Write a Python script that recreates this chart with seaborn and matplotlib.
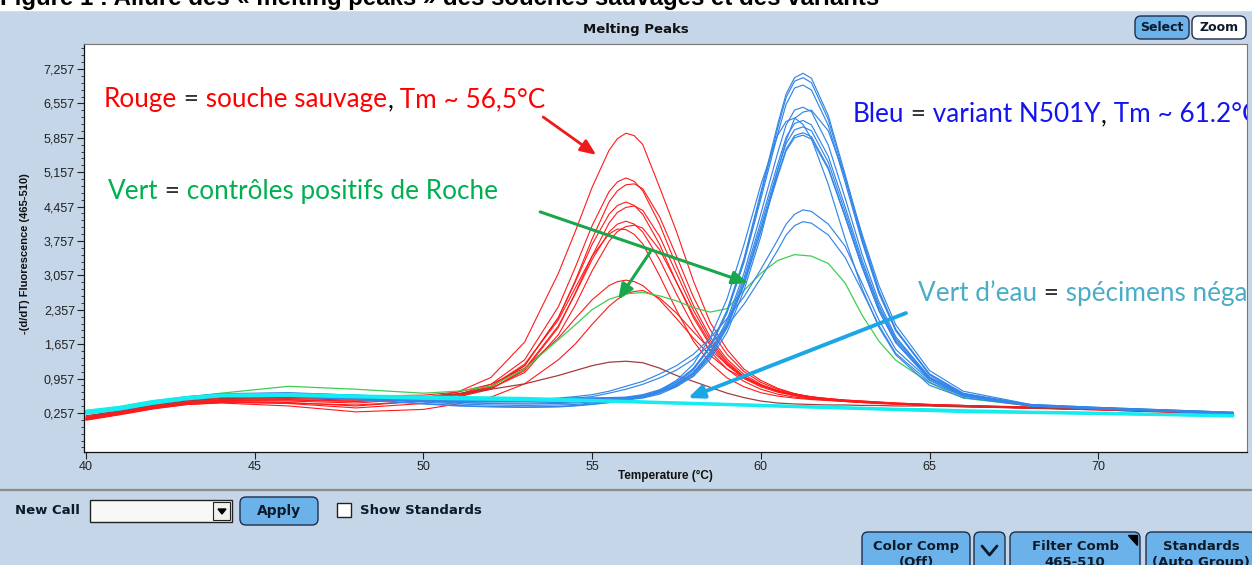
import numpy as np
import pandas as pd
import seaborn as sns
import matplotlib.pyplot as plt
from matplotlib.patches import FancyBboxPatch, Rectangle, Polygon

sns.set_theme(style="white")
plt.rcParams["font.family"] = ["Liberation Sans", "DejaVu Sans"]

# DATA
# temperature grid for the red (wild type) curves, finer around the 56 °C peak
temps_red = [40, 41, 42, 43, 44, 46, 48, 50, 51, 52, 53, 54, 54.5, 55, 55.5, 55.75, 56, 56.25, 56.5,
             57, 57.5, 58, 58.5, 59, 59.5, 60, 60.5, 61, 61.5, 62, 62.5, 63, 63.5, 64, 65, 66, 68, 70, 74]
# temperature grid for the blue (N501Y) curves, finer around the 61 °C peak
temps_blue = [40, 41, 42, 43, 44, 46, 48, 50, 51, 52, 53, 54, 54.5, 55, 55.5, 56, 56.5, 57, 57.5,
              58, 58.5, 59, 59.5, 60, 60.5, 60.75, 61, 61.25, 61.5, 62, 62.5, 63, 63.5, 64, 65, 66, 68, 70, 74]
# grid for the other curves
temps = [40, 41, 42, 43, 44, 46, 48, 50, 51, 52, 53, 54, 54.5, 55, 55.5, 56, 56.5, 57, 57.5,
         58, 58.5, 59, 59.5, 60, 60.5, 61, 61.5, 62, 62.5, 63, 63.5, 64, 65, 66, 68, 70, 74]

red_curves = [
    [0.14, 0.26, 0.38, 0.47, 0.52, 0.53, 0.50, 0.56, 0.68, 0.98, 1.70, 3.10, 3.95, 4.85, 5.60, 5.84, 5.95, 5.90, 5.72, 4.85, 3.95, 2.95, 2.10, 1.55, 1.15, 0.92, 0.76, 0.65, 0.58, 0.54, 0.51, 0.48, 0.46, 0.45, 0.42, 0.40, 0.37, 0.34, 0.25],
    [0.12, 0.24, 0.36, 0.45, 0.50, 0.50, 0.46, 0.55, 0.63, 0.84, 1.34, 2.42, 3.22, 4.07, 4.76, 4.96, 5.04, 4.97, 4.78, 4.10, 3.25, 2.45, 1.80, 1.35, 1.04, 0.84, 0.71, 0.63, 0.57, 0.53, 0.50, 0.48, 0.46, 0.45, 0.42, 0.40, 0.36, 0.33, 0.24],
    [0.16, 0.28, 0.40, 0.48, 0.53, 0.55, 0.52, 0.57, 0.63, 0.80, 1.22, 2.20, 2.95, 3.80, 4.55, 4.78, 4.90, 4.92, 4.82, 4.25, 3.45, 2.62, 1.95, 1.45, 1.10, 0.88, 0.74, 0.65, 0.58, 0.54, 0.51, 0.49, 0.47, 0.45, 0.43, 0.41, 0.37, 0.34, 0.25],
    [0.13, 0.25, 0.37, 0.44, 0.48, 0.45, 0.36, 0.45, 0.58, 0.78, 1.22, 2.20, 2.92, 3.69, 4.30, 4.48, 4.55, 4.48, 4.30, 3.69, 2.92, 2.20, 1.63, 1.23, 0.96, 0.79, 0.68, 0.61, 0.56, 0.53, 0.50, 0.48, 0.46, 0.44, 0.41, 0.39, 0.36, 0.33, 0.24],
    [0.15, 0.27, 0.39, 0.47, 0.51, 0.52, 0.49, 0.55, 0.60, 0.75, 1.12, 2.00, 2.70, 3.45, 4.12, 4.34, 4.44, 4.47, 4.38, 3.85, 3.10, 2.35, 1.74, 1.30, 1.00, 0.82, 0.70, 0.62, 0.57, 0.53, 0.51, 0.49, 0.47, 0.45, 0.42, 0.40, 0.37, 0.34, 0.25],
    [0.11, 0.22, 0.34, 0.43, 0.47, 0.46, 0.42, 0.50, 0.58, 0.74, 1.15, 2.03, 2.68, 3.38, 3.94, 4.10, 4.16, 4.10, 3.94, 3.38, 2.68, 2.03, 1.51, 1.15, 0.90, 0.74, 0.64, 0.58, 0.54, 0.52, 0.50, 0.48, 0.46, 0.44, 0.41, 0.39, 0.36, 0.32, 0.23],
    [0.17, 0.29, 0.41, 0.50, 0.55, 0.57, 0.55, 0.58, 0.63, 0.76, 1.08, 1.85, 2.45, 3.15, 3.75, 3.95, 4.05, 4.08, 4.02, 3.58, 2.92, 2.25, 1.68, 1.27, 0.99, 0.82, 0.71, 0.64, 0.59, 0.55, 0.52, 0.50, 0.48, 0.46, 0.43, 0.41, 0.38, 0.35, 0.26],
    [0.14, 0.25, 0.37, 0.45, 0.49, 0.47, 0.40, 0.50, 0.60, 0.80, 1.25, 2.15, 2.80, 3.45, 3.90, 4.00, 3.99, 3.89, 3.70, 3.05, 2.35, 1.72, 1.27, 0.97, 0.79, 0.67, 0.60, 0.56, 0.53, 0.51, 0.49, 0.47, 0.45, 0.44, 0.41, 0.39, 0.36, 0.33, 0.24],
    [0.18, 0.30, 0.43, 0.52, 0.57, 0.60, 0.60, 0.62, 0.68, 0.84, 1.17, 1.78, 2.18, 2.56, 2.85, 2.93, 2.96, 2.93, 2.85, 2.56, 2.18, 1.78, 1.43, 1.15, 0.96, 0.82, 0.71, 0.64, 0.58, 0.55, 0.52, 0.50, 0.48, 0.46, 0.43, 0.41, 0.37, 0.34, 0.25],
    [0.12, 0.23, 0.35, 0.43, 0.46, 0.40, 0.28, 0.33, 0.44, 0.58, 0.85, 1.34, 1.66, 2.06, 2.43, 2.57, 2.68, 2.73, 2.75, 2.60, 2.29, 1.91, 1.55, 1.24, 0.99, 0.82, 0.69, 0.61, 0.55, 0.52, 0.49, 0.47, 0.45, 0.44, 0.41, 0.39, 0.35, 0.32, 0.23],
]

darkred_curves = [
    [0.20, 0.30, 0.42, 0.50, 0.55, 0.57, 0.55, 0.58, 0.65, 0.74, 0.85, 1.02, 1.12, 1.22, 1.29, 1.31, 1.28, 1.17, 1.02, 0.90, 0.78, 0.66, 0.57, 0.50, 0.46, 0.44, 0.43, 0.42, 0.42, 0.41, 0.41, 0.40, 0.40, 0.38, 0.36, 0.33, 0.25],
]

green_curves = [
    [0.25, 0.35, 0.47, 0.58, 0.66, 0.80, 0.74, 0.66, 0.70, 0.80, 1.15, 1.75, 2.05, 2.36, 2.57, 2.68, 2.71, 2.64, 2.54, 2.40, 2.31, 2.38, 2.75, 3.10, 3.36, 3.48, 3.45, 3.30, 2.90, 2.25, 1.72, 1.33, 0.87, 0.56, 0.40, 0.36, 0.27],
]

blue_curves = [
    [0.28, 0.36, 0.48, 0.57, 0.63, 0.65, 0.60, 0.54, 0.52, 0.51, 0.51, 0.52, 0.53, 0.54, 0.54, 0.55, 0.60, 0.70, 0.88, 1.16, 1.62, 2.35, 3.40, 4.75, 6.13, 6.75, 7.08, 7.17, 7.07, 6.31, 5.11, 3.85, 2.75, 1.96, 1.05, 0.65, 0.41, 0.36, 0.26],
    [0.26, 0.34, 0.46, 0.55, 0.61, 0.63, 0.58, 0.50, 0.47, 0.45, 0.44, 0.45, 0.46, 0.48, 0.50, 0.53, 0.58, 0.68, 0.85, 1.13, 1.59, 2.31, 3.35, 4.69, 6.05, 6.68, 7.01, 7.08, 6.98, 6.23, 5.04, 3.79, 2.72, 1.94, 1.03, 0.64, 0.40, 0.35, 0.25],
    [0.30, 0.38, 0.50, 0.59, 0.65, 0.67, 0.62, 0.56, 0.54, 0.54, 0.54, 0.55, 0.56, 0.56, 0.57, 0.58, 0.63, 0.73, 0.89, 1.16, 1.61, 2.30, 3.32, 4.61, 5.93, 6.54, 6.87, 6.93, 6.83, 6.11, 4.95, 3.74, 2.69, 1.93, 1.05, 0.66, 0.42, 0.36, 0.26],
    [0.27, 0.35, 0.47, 0.56, 0.62, 0.62, 0.56, 0.48, 0.44, 0.42, 0.41, 0.42, 0.43, 0.46, 0.49, 0.53, 0.58, 0.67, 0.83, 1.08, 1.50, 2.15, 3.10, 4.31, 5.55, 6.12, 6.42, 6.48, 6.39, 5.71, 4.63, 3.49, 2.52, 1.81, 0.98, 0.62, 0.40, 0.35, 0.25],
    [0.29, 0.37, 0.49, 0.58, 0.64, 0.66, 0.62, 0.57, 0.55, 0.55, 0.55, 0.55, 0.56, 0.56, 0.57, 0.57, 0.61, 0.68, 0.80, 1.00, 1.35, 1.90, 2.75, 3.85, 5.20, 5.80, 6.25, 6.38, 6.42, 6.00, 5.05, 3.90, 2.85, 2.05, 1.12, 0.70, 0.43, 0.37, 0.27],
    [0.25, 0.33, 0.45, 0.54, 0.60, 0.60, 0.54, 0.45, 0.41, 0.39, 0.38, 0.39, 0.41, 0.44, 0.47, 0.53, 0.60, 0.72, 0.92, 1.25, 1.79, 2.58, 3.68, 4.90, 5.91, 6.19, 6.26, 6.13, 5.84, 4.91, 3.80, 2.79, 2.00, 1.44, 0.82, 0.57, 0.40, 0.34, 0.24],
    [0.28, 0.36, 0.48, 0.57, 0.63, 0.64, 0.59, 0.52, 0.50, 0.49, 0.49, 0.50, 0.51, 0.53, 0.54, 0.56, 0.60, 0.69, 0.84, 1.08, 1.47, 2.09, 3.00, 4.15, 5.32, 5.87, 6.15, 6.21, 6.12, 5.48, 4.45, 3.37, 2.45, 1.77, 0.99, 0.64, 0.42, 0.36, 0.26],
    [0.26, 0.34, 0.46, 0.55, 0.61, 0.62, 0.57, 0.50, 0.47, 0.46, 0.46, 0.47, 0.48, 0.50, 0.52, 0.54, 0.58, 0.67, 0.81, 1.05, 1.43, 2.04, 2.93, 4.05, 5.21, 5.74, 6.02, 6.08, 6.00, 5.36, 4.35, 3.30, 2.40, 1.73, 0.97, 0.63, 0.41, 0.35, 0.25],
    [0.24, 0.32, 0.44, 0.53, 0.59, 0.59, 0.53, 0.44, 0.40, 0.38, 0.37, 0.38, 0.40, 0.43, 0.47, 0.52, 0.56, 0.64, 0.79, 1.02, 1.40, 1.99, 2.86, 3.97, 5.11, 5.63, 5.90, 5.96, 5.88, 5.25, 4.26, 3.23, 2.34, 1.69, 0.93, 0.60, 0.40, 0.34, 0.24],
    [0.29, 0.37, 0.49, 0.58, 0.64, 0.65, 0.60, 0.54, 0.52, 0.51, 0.51, 0.52, 0.53, 0.54, 0.55, 0.56, 0.61, 0.69, 0.83, 1.06, 1.43, 2.01, 2.87, 3.96, 5.07, 5.59, 5.86, 5.91, 5.83, 5.22, 4.24, 3.23, 2.34, 1.69, 0.96, 0.63, 0.43, 0.37, 0.27],
    [0.27, 0.35, 0.47, 0.56, 0.62, 0.63, 0.57, 0.49, 0.49, 0.50, 0.52, 0.56, 0.59, 0.63, 0.70, 0.80, 0.90, 1.05, 1.22, 1.45, 1.78, 2.18, 2.62, 3.18, 3.78, 4.10, 4.30, 4.39, 4.36, 4.10, 3.65, 2.90, 2.15, 1.55, 0.92, 0.62, 0.42, 0.36, 0.26],
    [0.28, 0.36, 0.48, 0.57, 0.63, 0.64, 0.59, 0.50, 0.50, 0.50, 0.51, 0.54, 0.56, 0.59, 0.66, 0.74, 0.84, 0.97, 1.13, 1.35, 1.65, 2.03, 2.47, 3.00, 3.57, 3.88, 4.07, 4.15, 4.12, 3.88, 3.42, 2.74, 2.04, 1.47, 0.88, 0.60, 0.41, 0.35, 0.25],
]

cyan_curves = [
    [0.30, 0.38, 0.50, 0.58, 0.63, 0.64, 0.61, 0.59, 0.58, 0.57, 0.56, 0.54, 0.53, 0.52, 0.51, 0.50, 0.49, 0.48, 0.47, 0.46, 0.45, 0.44, 0.43, 0.42, 0.41, 0.40, 0.39, 0.38, 0.37, 0.36, 0.35, 0.34, 0.33, 0.31, 0.28, 0.26, 0.21],
    [0.27, 0.35, 0.47, 0.56, 0.61, 0.62, 0.59, 0.57, 0.56, 0.55, 0.54, 0.53, 0.52, 0.51, 0.50, 0.49, 0.48, 0.47, 0.46, 0.45, 0.44, 0.43, 0.42, 0.41, 0.40, 0.39, 0.38, 0.37, 0.36, 0.35, 0.34, 0.33, 0.31, 0.29, 0.27, 0.25, 0.20],
    [0.25, 0.33, 0.45, 0.54, 0.60, 0.61, 0.58, 0.55, 0.54, 0.53, 0.52, 0.51, 0.50, 0.50, 0.49, 0.48, 0.47, 0.46, 0.45, 0.44, 0.43, 0.42, 0.41, 0.40, 0.39, 0.38, 0.37, 0.36, 0.35, 0.34, 0.33, 0.32, 0.30, 0.28, 0.26, 0.24, 0.19],
]

y_ticks = [0.257, 0.957, 1.657, 2.357, 3.057, 3.757, 4.457, 5.157, 5.857, 6.557, 7.257]
x_ticks = [40, 45, 50, 55, 60, 65, 70]

# long table for seaborn
groups = [("red", temps_red, red_curves), ("darkred", temps, darkred_curves),
          ("green", temps, green_curves), ("blue", temps_blue, blue_curves),
          ("cyan", temps, cyan_curves)]
frames = []
for name, grid, curves in groups:
    for i, vals in enumerate(curves):
        frames.append(pd.DataFrame({"T": grid, "F": vals, "group": name, "curve": f"{name}{i}"}))
df = pd.concat(frames, ignore_index=True)

styles = {"red": ("#ff1a1a", 0.8), "darkred": ("#a83a3a", 0.9), "green": ("#3ccf4e", 0.9),
          "blue": ("#3386e8", 0.85), "cyan": ("#14ecf0", 1.8)}

BG = "#c4d6e8"
W, H = 1252, 565
fig = plt.figure(figsize=(W / 100, H / 100), dpi=100, facecolor=BG)

# overlay axes in pixel coordinates for the window chrome
ui = fig.add_axes([0, 0, 1, 1], zorder=0)
ui.set_xlim(0, W)
ui.set_ylim(H, 0)
ui.axis("off")

ax = fig.add_axes([84 / W, (H - 452) / H, 1163 / W, 408 / H], zorder=2)
ax.set_facecolor("white")

for name, _, _ in groups:
    col, lw = styles[name]
    sns.lineplot(data=df[df["group"] == name], x="T", y="F", units="curve", estimator=None,
                 color=col, linewidth=lw, ax=ax, legend=False)

ax.set_xlim(39.94, 74.41)
ax.set_ylim(-0.537, 7.766)
ax.set_yticks(y_ticks)
ax.set_yticklabels([f"{v:.3f}".replace(".", ",") for v in y_ticks])
ax.set_yticks(np.arange(0.257 - 0.7, 7.7, 0.14), minor=True)
ax.set_xticks(x_ticks)
ax.set_xticklabels([str(v) for v in x_ticks])
ax.tick_params(axis="y", which="major", direction="out", length=5, width=0.8,
               labelsize=9, pad=1.5, colors="#222222", left=True)
ax.tick_params(axis="y", which="minor", direction="out", length=2.5, width=0.6,
               colors="#222222", left=True)
ax.tick_params(axis="x", which="major", direction="out", length=5, width=0.8,
               labelsize=9, pad=1.5, colors="#222222", bottom=True)
for side in ["left", "bottom"]:
    ax.spines[side].set_color("#111111")
    ax.spines[side].set_linewidth(0.9)
for side in ["top", "right"]:
    ax.spines[side].set_color("#777777")
    ax.spines[side].set_linewidth(0.8)

ax.set_xlabel("Temperature (°C)", fontsize=8.5, fontweight="bold", color="#111111")
ax.xaxis.set_label_coords(0.5, -0.043)
ax.set_ylabel("-(d/dT) Fluorescence (465-510)", fontsize=8, fontweight="bold", color="#111111")
ax.yaxis.set_label_coords(-0.0465, 0.485)

# coloured legend sentences
ANN_FONT = ["Lato", "DejaVu Sans"]
RED, GREEN, BLUE, TEAL, DARK = "#ff0000", "#00b050", "#1414ee", "#4bacc6", "#333333"


def colored_text(x, y, parts, size=18.8):
    t = ax.text(x, y, parts[0][0], color=parts[0][1], transform=ax.transAxes,
                fontsize=size, family=ANN_FONT, va="baseline", zorder=6)
    t.set_clip_box(ax.bbox)
    t.set_clip_on(True)
    for s, c in parts[1:]:
        t = ax.annotate(s, xycoords=t, xy=(1, 0), va="bottom", color=c,
                        fontsize=size, family=ANN_FONT, zorder=6)
        t.set_clip_box(ax.bbox)
        t.set_clip_on(True)


colored_text(0.0172, 0.846, [("Rouge", RED), (" =", DARK), (" souche sauvage", RED),
                             (",", "black"), (" Tm ~ 56,5°C", RED)])
colored_text(0.0206, 0.620, [("Vert", GREEN), (" =", DARK), (" contrôles positifs de Roche", GREEN)])
colored_text(0.661, 0.809, [("Bleu", BLUE), (" =", DARK), (" variant N501Y", BLUE),
                            (",", "black"), (" Tm ~ 61.2°C", BLUE)])
colored_text(0.717, 0.370, [("Vert d’eau", TEAL), (" =", DARK), (" spécimens négatifs", TEAL)])


# arrows
def arrow(tail, head, col, lw, hw):
    ax.annotate("", xy=head, xytext=tail, zorder=7,
                arrowprops=dict(arrowstyle=f"-|>,head_length={hw * 1.3},head_width={hw * 0.55}",
                                color=col, lw=lw, shrinkA=0, shrinkB=0))


arrow((53.55, 6.28), (55.12, 5.51), "#f01818", 2.0, 0.6)
arrow((53.46, 4.35), (59.62, 2.90), "#1aa64a", 2.2, 0.6)
arrow((56.72, 3.53), (55.77, 2.56), "#1aa64a", 2.2, 0.6)
arrow((64.30, 2.29), (57.84, 0.56), "#1ba6e4", 2.8, 0.6)

# ---- window chrome ----
ui.add_patch(Rectangle((0, 0), W, 10, color="white", zorder=1))
ui.text(0, 5, "Figure 1 : Allure des « melting peaks » des souches sauvages et des variants",
        fontsize=17.3, fontweight="bold", va="baseline", ha="left", color="black", zorder=2)
ui.text(636, 29, "Melting Peaks", fontsize=9.5, fontweight="bold", ha="center", va="center",
        family=["DejaVu Sans"], color="#111111")

BTN = "#6cb2ea"


def button(x, y, w, h, label, face=BTN, size=9.5, r=6):
    ui.add_patch(FancyBboxPatch((x, y), w, h, boxstyle=f"round,pad=0,rounding_size={r}",
                                facecolor=face, edgecolor="#1d2f4a", linewidth=1.0, zorder=2))
    if label:
        ui.text(x + w / 2, y + h / 2, label, ha="center", va="center", fontsize=size,
                fontweight="bold", family=["DejaVu Sans"], color="#0d1a2a", zorder=3,
                linespacing=1.25)


button(1135, 16, 54, 23, "Select", size=9)
button(1192, 16, 54, 23, "Zoom", face="white", size=9)

# separator
ui.plot([0, W], [490, 490], color="#8c8c8c", lw=1.6, zorder=1)

ui.text(15, 511, "New Call", fontsize=9.5, fontweight="bold", va="center",
        family=["DejaVu Sans"], color="#0d1a2a")
ui.add_patch(Rectangle((90, 500), 142, 22, facecolor="#f8f8f8", edgecolor="#222222", lw=1.0, zorder=2))
ui.add_patch(Rectangle((213, 502), 17, 18, facecolor="#f0f0f0", edgecolor="#222222", lw=0.8, zorder=3))
ui.add_patch(Polygon([[218, 509], [226, 509], [222, 514]], closed=True, color="black", zorder=4))
button(240, 497, 78, 28, "Apply", size=10)
ui.add_patch(Rectangle((337, 503), 14, 14, facecolor="white", edgecolor="#222222", lw=1.0, zorder=2))
ui.text(360, 511, "Show Standards", fontsize=9.5, fontweight="bold", va="center",
        family=["DejaVu Sans"], color="#0d1a2a")

button(862, 532, 108, 45, "Color Comp\n(Off)", size=9.5)
button(974, 532, 31, 45, "", size=9.5)
ui.plot([982, 989.5, 997], [546, 555, 546], color="#0d1a2a", lw=2.0, zorder=3)
button(1010, 532, 130, 45, "Filter Comb\n465-510", size=9.5)
ui.add_patch(Polygon([[1128, 535], [1137, 535], [1137, 545]], closed=True, color="black", zorder=4))
button(1146, 532, 110, 45, "Standards\n(Auto Group)", size=9.5)

fig.savefig("out.png", dpi=100, facecolor=BG)
